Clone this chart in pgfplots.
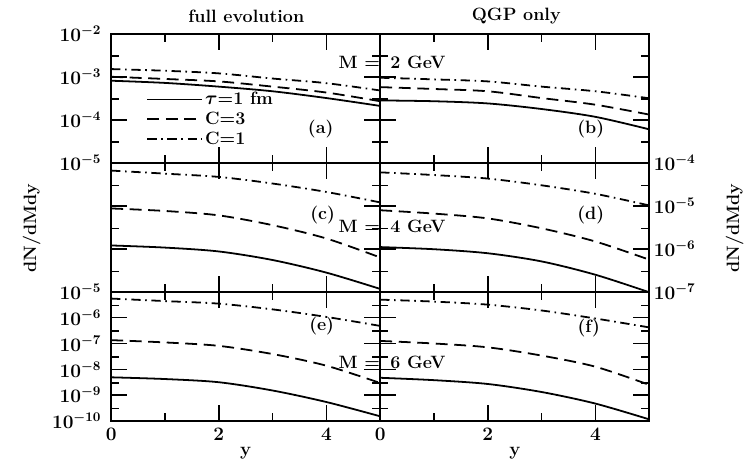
\documentclass[border=0pt]{standalone}
\usepackage{pgfplots}
\pgfplotsset{compat=1.18}
\pgfplotsset{
  mypanel/.style={scale only axis, width=203.25pt, height=97.5pt,
    xmin=0, xmax=5, xtick={0,2,4}, minor xtick={1,3},
    xmajorticks=true, ymajorticks=true, xminorticks=true, yminorticks=true,
    tick align=inside,
    major tick length=12pt, minor tick length=6pt,
    xtick style={black, line width=1.2pt}, ytick style={black, line width=1.2pt},
    axis line style={line width=1.3pt},
    tick label style={font=\fontsize{14}{16}\selectfont\bfseries\boldmath},
    xticklabel style={yshift=-2pt},
    yticklabel style={xshift=-4pt}},
}
\tikzset{
  sol/.style={black, line width=1.35pt},
  das/.style={black, line width=1.35pt, dash pattern=on 9pt off 5pt},
  dd/.style={black, line width=1.35pt, dash pattern=on 7pt off 3.5pt on 1.2pt off 3.5pt},
}
\begin{document}
\begin{tikzpicture}
% (a)
\begin{axis}[ymode=log, mypanel, at={(0pt,195pt)}, anchor=south west, xticklabels={},
  ymin=1e-5, ymax=1e-2, ytick={1e-5,1e-4,1e-3,1e-2}, minor ytick={3e-5,3e-4,3e-3},
  legend style={draw=none, fill=none, at={(0.13,0.57)}, anchor=north west, inner sep=0pt,
    font=\fontsize{13.5}{14}\selectfont\bfseries\boldmath, row sep=0pt, cells={anchor=west}},
  legend image code/.code={\draw[#1] (0pt,0pt) -- (41pt,0pt);}]
\addplot[sol, smooth] coordinates {(0,8.1e-4) (1,7.2e-4) (2,5.9e-4) (3,4.6e-4) (4,3.2e-4) (5,2.1e-4)};
\addplot[das, smooth] coordinates {(0,1.0e-3) (1,8.9e-4) (2,7.8e-4) (3,5.9e-4) (4,4.3e-4) (5,2.7e-4)};
\addplot[dd, smooth] coordinates {(0,1.51e-3) (1,1.38e-3) (2,1.2e-3) (3,9.1e-4) (4,7.1e-4) (5,4.8e-4)};
\legend{$\tau$=1 fm, C=3, C=1}
\end{axis}
% (b)
\begin{axis}[ymode=log, mypanel, at={(203.25pt,195pt)}, anchor=south west, xticklabels={}, yticklabels={},
  ymin=1e-5, ymax=1e-2, ytick={1e-5,1e-4,1e-3,1e-2}, minor ytick={3e-5,3e-4,3e-3}]
\addplot[sol, smooth] coordinates {(0,2.82e-4) (1,2.7e-4) (2,2.4e-4) (3,1.78e-4) (4,1.17e-4) (5,6.0e-5)};
\addplot[das, smooth] coordinates {(0,5.75e-4) (1,5.2e-4) (2,4.6e-4) (3,3.2e-4) (4,2.24e-4) (5,1.32e-4)};
\addplot[dd, smooth] coordinates {(0,9.5e-4) (1,8.7e-4) (2,7.8e-4) (3,5.9e-4) (4,4.6e-4) (5,3.16e-4)};
\end{axis}
% (c)
\begin{axis}[ymode=log, mypanel, at={(0pt,97.5pt)}, anchor=south west, xticklabels={}, yticklabels={},
  ymin=1e-7, ymax=1e-4, ytick={1e-7,1e-6,1e-5,1e-4}, minor ytick={3e-7,3e-6,3e-5}]
\addplot[sol, smooth] coordinates {(0,1.2e-6) (1,1.07e-6) (2,8.7e-7) (3,5.5e-7) (4,2.8e-7) (5,1.17e-7)};
\addplot[das, smooth] coordinates {(0,8.7e-6) (1,7.6e-6) (2,6.0e-6) (3,3.55e-6) (4,1.74e-6) (5,6.3e-7)};
\addplot[dd, smooth] coordinates {(0,6.6e-5) (1,5.6e-5) (2,4.7e-5) (3,3.3e-5) (4,2.1e-5) (5,1.2e-5)};
\end{axis}
% (d)
\begin{axis}[ymode=log, mypanel, at={(203.25pt,97.5pt)}, anchor=south west, xticklabels={},
  yticklabel pos=right, yticklabel style={xshift=4pt},
  ymin=1e-7, ymax=1e-4, ytick={1e-7,1e-6,1e-5,1e-4}, minor ytick={3e-7,3e-6,3e-5}]
\addplot[sol, smooth] coordinates {(0,1.1e-6) (1,9.8e-7) (2,7.9e-7) (3,5.1e-7) (4,2.5e-7) (5,9.8e-8)};
\addplot[das, smooth] coordinates {(0,7.9e-6) (1,6.6e-6) (2,5.1e-6) (3,3.0e-6) (4,1.48e-6) (5,5.6e-7)};
\addplot[dd, smooth] coordinates {(0,6.0e-5) (1,5.2e-5) (2,4.3e-5) (3,3.0e-5) (4,1.9e-5) (5,1.02e-5)};
\end{axis}
% (e)
\begin{axis}[ymode=log, mypanel, at={(0pt,0pt)}, anchor=south west,
  ymin=1e-10, ymax=1e-5, ytick={1e-10,1e-9,1e-8,1e-7,1e-6,1e-5},
  minor ytick={3e-10,3e-9,3e-8,3e-7,3e-6},
  xlabel={y}, xlabel style={font=\fontsize{14}{16}\selectfont\bfseries, yshift=2pt}]
\addplot[sol, smooth] coordinates {(0,4.9e-9) (1,4.2e-9) (2,3.16e-9) (3,1.51e-9) (4,5.4e-10) (5,1.51e-10)};
\addplot[das, smooth] coordinates {(0,1.35e-7) (1,1.1e-7) (2,8.1e-8) (3,3.9e-8) (4,1.38e-8) (5,2.95e-9)};
\addplot[dd, smooth] coordinates {(0,5.5e-6) (1,4.4e-6) (2,3.5e-6) (3,2.1e-6) (4,1.07e-6) (5,4.8e-7)};
\end{axis}
% (f)
\begin{axis}[ymode=log, mypanel, at={(203.25pt,0pt)}, anchor=south west, yticklabels={},
  ymin=1e-10, ymax=1e-5, ytick={1e-10,1e-9,1e-8,1e-7,1e-6,1e-5},
  minor ytick={3e-10,3e-9,3e-8,3e-7,3e-6},
  xlabel={y}, xlabel style={font=\fontsize{14}{16}\selectfont\bfseries, yshift=2pt}]
\addplot[sol, smooth] coordinates {(0,4.7e-9) (1,3.8e-9) (2,2.7e-9) (3,1.32e-9) (4,4.7e-10) (5,1.15e-10)};
\addplot[das, smooth] coordinates {(0,1.26e-7) (1,1.0e-7) (2,7.1e-8) (3,3.4e-8) (4,1.26e-8) (5,2.5e-9)};
\addplot[dd, smooth] coordinates {(0,5.0e-6) (1,4.2e-6) (2,3.2e-6) (3,1.9e-6) (4,9.3e-7) (5,4.2e-7)};
\end{axis}
% texts
\begin{scope}[every node/.style={font=\fontsize{13.5}{15}\selectfont\bfseries}]
\node at (102pt,306pt) {full evolution};
\node at (306pt,306pt) {QGP only};
\node[rotate=90] at (-60pt,145.5pt) {dN/dMdy};
\node[rotate=90] at (471pt,145.5pt) {dN/dMdy};
\node[anchor=east, inner sep=0pt] at (203.25pt,270.75pt) {M =};
\node[anchor=west, inner sep=0pt] at (210.75pt,270.75pt) {2 GeV};
\node[anchor=east, inner sep=0pt] at (203.25pt,147pt) {M =};
\node[anchor=west, inner sep=0pt] at (210.75pt,147pt) {4 GeV};
\node[anchor=east, inner sep=0pt] at (203.25pt,44.25pt) {M =};
\node[anchor=west, inner sep=0pt] at (210.75pt,44.25pt) {6 GeV};
\node at (158.25pt,220.5pt) {(a)};
\node at (362.25pt,220.5pt) {(b)};
\node at (159.75pt,155.25pt) {(c)};
\node at (362.25pt,155.25pt) {(d)};
\node at (159pt,72pt) {(e)};
\node at (360.75pt,70.5pt) {(f)};
\end{scope}
\useasboundingbox (-84pt,-28.5pt) rectangle (477pt,318pt);
\end{tikzpicture}
\end{document}
